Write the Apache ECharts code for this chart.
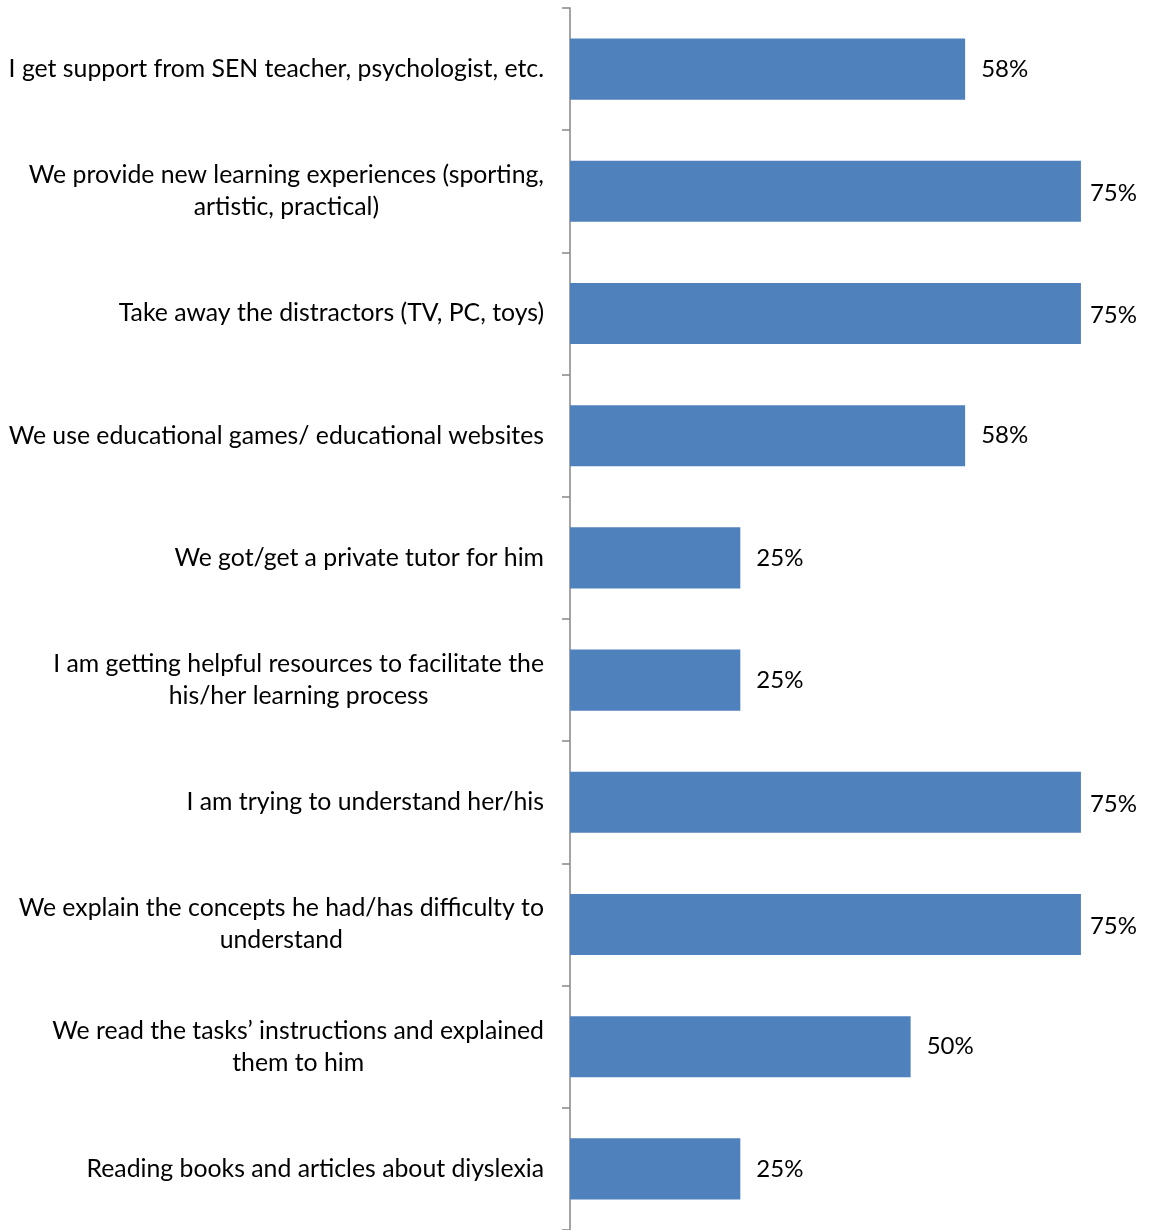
<!DOCTYPE html>
<html>
<head>
<meta charset="utf-8">
<style>
  html, body { margin: 0; padding: 0; background: #fff; }
  #chart { width: 1152px; height: 1230px; }
</style>
<script src="https://cdn.jsdelivr.net/npm/echarts@6/dist/echarts.min.js"></script>
</head>
<body>
<div id="chart"></div>
<script>
// Strategies parents use to support their child's learning (share of respondents, %)
const categories = [
  'I get support from SEN teacher, psychologist, etc.',
  'We provide new learning experiences (sporting,\nartistic, practical)',
  'Take away the distractors (TV, PC, toys)',
  'We use educational games/ educational websites',
  'We got/get a private tutor for him',
  'I am getting helpful resources to facilitate the\nhis/her learning process',
  'I am trying to understand her/his',
  'We explain the concepts he had/has difficulty to\nunderstand',
  'We read the tasks\u2019 instructions and explained\nthem to him',
  'Reading books and articles about diyslexia'
];
const shares = [58, 75, 75, 58, 25, 25, 75, 75, 50, 25];

const FONT = 'Lato';
const maxShare = Math.max.apply(null, shares);

// Labels on the longest bars sit a little closer so they stay inside the canvas
const barData = shares.map(function (v) {
  return v === maxShare ? { value: v, label: { distance: 9, offset: [0, 2] } } : v;
});

const chart = echarts.init(document.getElementById('chart'));
chart.setOption({
  animation: false,
  backgroundColor: '#ffffff',
  grid: { left: 570, top: 8, bottom: 0, right: 37, containLabel: false },
  xAxis: {
    type: 'value',
    min: 0,
    max: 80,
    show: false
  },
  yAxis: {
    type: 'category',
    inverse: true,
    data: categories,
    axisLine: { show: true, lineStyle: { color: '#868686', width: 1.5 } },
    axisTick: { show: true, inside: false, length: 8, lineStyle: { color: '#868686', width: 1.5 } },
    axisLabel: {
      margin: 26,
      formatter: function (v) {
        return v.split('\n').map(function (s) { return '{c|' + s + '}'; }).join('\n');
      },
      rich: {
        c: { align: 'center', fontFamily: FONT, fontSize: 24.8, lineHeight: 32, color: '#000' }
      }
    }
  },
  series: [{
    type: 'bar',
    data: barData,
    barCategoryGap: '50%',
    itemStyle: { color: '#4F81BD' },
    label: {
      show: true,
      position: 'right',
      distance: 16,
      formatter: '{c}%',
      fontFamily: FONT,
      fontSize: 24,
      color: '#000'
    }
  }]
});
</script>
</body>
</html>
